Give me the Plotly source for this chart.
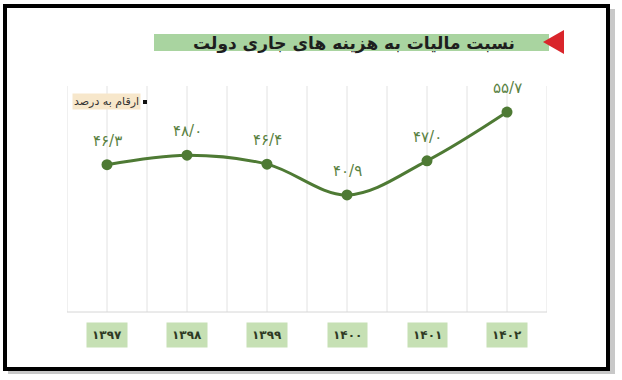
import plotly.graph_objects as go

years = ["۱۳۹۷", "۱۳۹۸", "۱۳۹۹", "۱۴۰۰", "۱۴۰۱", "۱۴۰۲"]
values = [46.3, 48.0, 46.4, 40.9, 47.0, 55.7]
value_labels = ["۴۶/۳", "۴۸/۰", "۴۶/۴", "۴۰/۹", "۴۷/۰", "۵۵/۷"]
title_text = "نسبت مالیات به هزینه های جاری دولت"
unit_text = "ارقام به درصد"

W, H = 622, 380
def px(x): return x / W
def py(y): return 1 - y / H

xs = list(range(len(years)))
FONT = "DejaVu Sans"

fig = go.Figure()
fig.add_trace(go.Scatter(
    x=xs, y=values, mode="lines+markers",
    line=dict(color="#4e7a34", width=3, shape="spline", smoothing=1.0),
    marker=dict(color="#4e7a34", size=11),
    hoverinfo="skip", showlegend=False,
))

annotations = []
for i, (v, lab) in enumerate(zip(values, value_labels)):
    annotations.append(dict(
        x=i, y=v, xref="x", yref="y", text=lab, showarrow=False,
        yshift=24, xanchor="center", yanchor="middle",
        font=dict(family=FONT, size=15, color="#5a8242"),
    ))
for i, y in enumerate(years):
    annotations.append(dict(
        x=i, xref="x", y=py(335), yref="paper", text="<b>%s</b>" % y,
        showarrow=False, bgcolor="#c6e0b4", borderpad=5,
        font=dict(family=FONT, size=12, color="#2f3a24"),
        xanchor="center", yanchor="middle",
    ))

annotations.append(dict(
    x=px(354), y=py(43), xref="paper", yref="paper",
    text="<b>%s</b>" % title_text, showarrow=False,
    font=dict(family=FONT, size=17, color="#1e1e1e"),
    xanchor="center", yanchor="middle",
))
annotations.append(dict(
    x=px(141), y=py(102), xref="paper", yref="paper",
    text=unit_text, showarrow=False, bgcolor="#f7e7cb",
    font=dict(family=FONT, size=11, color="#333333"),
    xanchor="right", yanchor="middle", borderpad=1,
))

shapes = [
    dict(type="rect", xref="paper", yref="paper", layer="below",
         x0=px(8), x1=px(615), y0=py(374), y1=py(9),
         fillcolor="#c8c8c8", line=dict(width=0)),
    dict(type="rect", xref="paper", yref="paper", layer="below",
         x0=px(5), x1=px(610), y0=py(369), y1=py(7),
         fillcolor="white", line=dict(width=0)),
    dict(type="rect", xref="paper", yref="paper",
         x0=px(5), x1=px(608), y0=py(369), y1=py(6),
         line=dict(color="black", width=4)),
    dict(type="rect", xref="paper", yref="paper", layer="below",
         x0=px(154), x1=px(549), y0=py(51), y1=py(34),
         fillcolor="#a9d4a0", line=dict(width=0)),
    dict(type="path", xref="paper", yref="paper",
         path="M %f,%f L %f,%f L %f,%f Z" % (px(543), py(42), px(564), py(30), px(564), py(54)),
         fillcolor="#d9252b", line=dict(width=0)),
    dict(type="rect", xref="paper", yref="paper",
         x0=px(143), x1=px(147), y0=py(104), y1=py(100),
         fillcolor="#111111", line=dict(width=0)),
]

# vertical gridlines at category centres and boundaries
for k in range(2 * len(years) + 1):
    gx = k * 0.5 - 0.5
    shapes.append(dict(type="line", xref="x", yref="paper", layer="below",
                       x0=gx, x1=gx, y0=py(312), y1=py(86),
                       line=dict(color="#e2e2e2", width=1)))
shapes.append(dict(type="line", xref="x", yref="paper", layer="below",
                   x0=-0.5, x1=len(years) - 0.5, y0=py(312), y1=py(312),
                   line=dict(color="#d6d6d6", width=1)))

fig.update_layout(
    width=W, height=H,
    margin=dict(l=0, r=0, t=0, b=0),
    paper_bgcolor="white", plot_bgcolor="rgba(0,0,0,0)",
    xaxis=dict(domain=[px(67), px(547)], range=[-0.5, 5.5],
               showticklabels=False, showgrid=False,
               zeroline=False, showline=False, ticks=""),
    yaxis=dict(domain=[py(312), py(88)], range=[20, 60],
               showgrid=False, showticklabels=False, zeroline=False,
               showline=False),
    annotations=annotations, shapes=shapes,
    font=dict(family=FONT),
)

fig.write_html("out.html")
